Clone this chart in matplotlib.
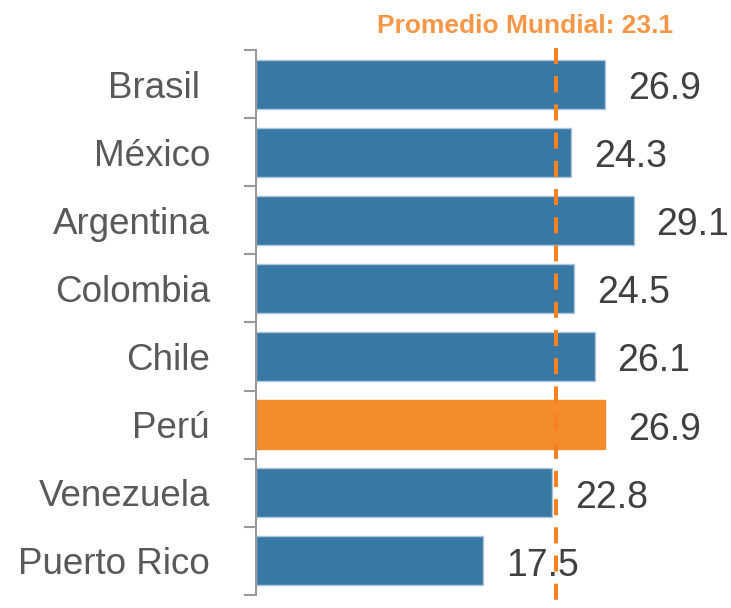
import numpy as np
import matplotlib.pyplot as plt

plt.rcParams['font.family'] = ['Liberation Sans', 'DejaVu Sans']

paises = ['Brasil ', 'México', 'Argentina', 'Colombia', 'Chile', 'Perú', 'Venezuela', 'Puerto Rico']
valores = [26.9, 24.3, 29.1, 24.5, 26.1, 26.9, 22.8, 17.5]
promedio = 23.1

azul = '#3a78a4'
naranja = '#f48c2c'
colores = [naranja if p == 'Perú' else azul for p in paises]
bordes = ['#f48c2c' if p == 'Perú' else '#a9c6de' for p in paises]

fig = plt.figure(figsize=(7.31, 6.08), dpi=100)
ax = fig.add_axes([0.350, 0.0214, 0.650, 0.8964])

y = np.arange(len(paises))
ax.barh(y, valores, height=0.72, color=colores, edgecolor=bordes, linewidth=1)

ax.set_xlim(0, 36.6)
ax.set_ylim(len(paises) - 0.5, -0.5)

# etiquetas de valor
for yi, v in zip(y, valores):
    ax.annotate('%.1f' % v, (v, yi), xytext=(16.5, -3.5), textcoords='offset points',
                ha='left', va='center', fontsize=27, color='#404040', annotation_clip=False)

# linea del promedio mundial
ax.plot([promedio, promedio], [1.004, -0.05], transform=ax.get_xaxis_transform(),
        color='#f58220', lw=2.9, dashes=(4, 3), clip_on=False, zorder=5)
fig.text(0.718, 0.958, 'Promedio Mundial: %.1f' % promedio, ha='center', va='center',
         fontsize=19, fontweight='bold', color='#f79646')

# ejes
for s in ['top', 'right', 'bottom']:
    ax.spines[s].set_visible(False)
ax.spines['left'].set_color('#999999')
ax.spines['left'].set_linewidth(1.5)
ax.set_xticks([])
ax.set_yticks(y)
ax.set_yticklabels(paises, fontsize=26.5, color='#595959')
ax.set_yticks(np.arange(-0.5, len(paises)), minor=True)
ax.tick_params(axis='y', which='major', length=0, pad=33)
ax.tick_params(axis='y', which='minor', length=8.6, width=1.5, color='#999999')

plt.savefig('out.png', dpi=100)
